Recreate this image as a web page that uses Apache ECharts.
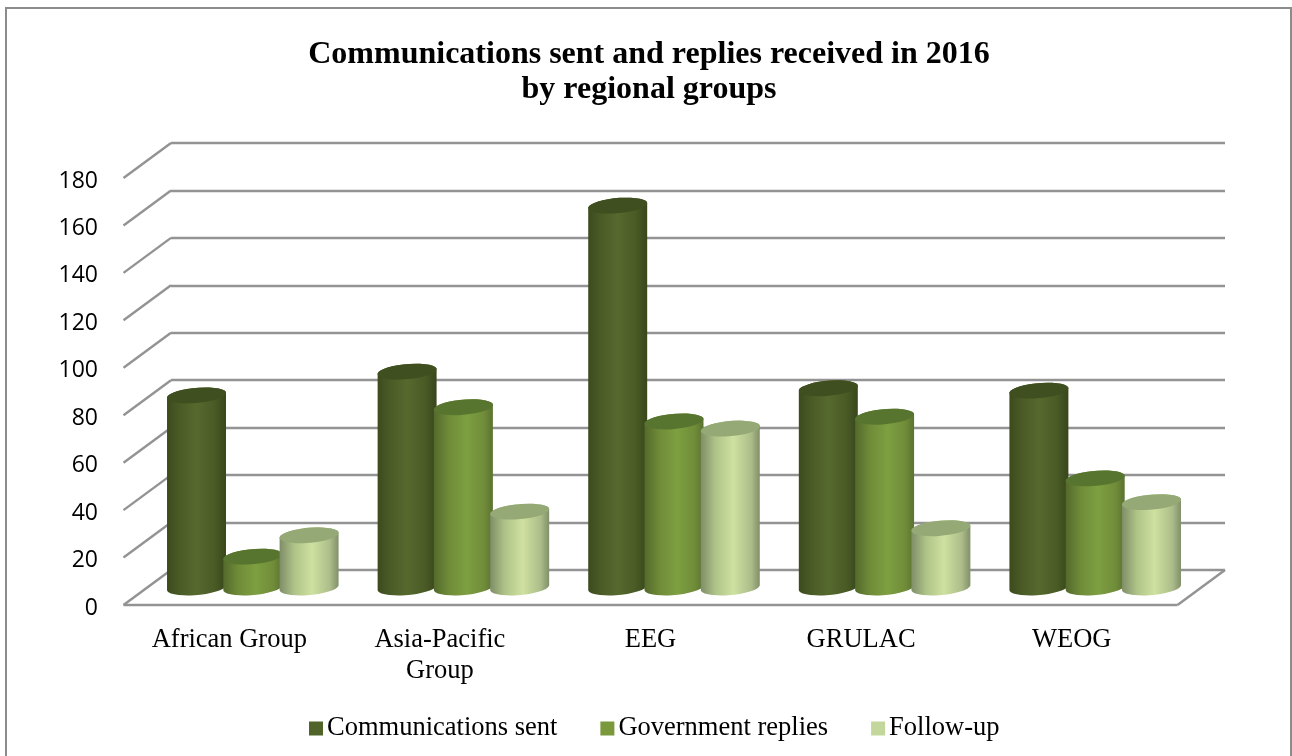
<!DOCTYPE html>
<html>
<head>
<meta charset="utf-8">
<title>Communications sent and replies received in 2016</title>
<script src="https://cdn.jsdelivr.net/npm/echarts@6/dist/echarts.min.js"></script>
<style>
  html, body { margin: 0; padding: 0; background: #fff; }
  #chart { width: 1292px; height: 756px; }
</style>
</head>
<body>
<div id="chart"></div>
<script>
// data
const categories = ["African Group", "Asia-Pacific\nGroup", "EEG", "GRULAC", "WEOG"];
const seriesNames = ["Communications sent", "Government replies", "Follow-up"];
const communicationsSent = [81, 91, 161, 84, 83];
const governmentReplies = [13, 76, 70, 72, 46];
const followUp = [22, 32, 67, 25, 36];
const yTicks = [0, 20, 40, 60, 80, 100, 120, 140, 160, 180];

// oblique depth of the 3d box, front plane relative to back wall
const depthX = -47.5;
const depthY = 35;

const chartDom = document.getElementById("chart");
const myChart = echarts.init(chartDom);

const serif = "'Liberation Serif', 'Times New Roman', serif";

function shaft(stops) {
  return {
    type: "linear", x: 0, y: 0, x2: 1, y2: 0,
    colorStops: stops.map(function (s) {
      return { offset: s[0], color: s[1] };
    }),
  };
}

const seriesLook = [
  {
    legend: "#50642a",
    top: "#3f4f1f",
    body: shaft([[0, "#3c4a1d"], [0.2, "#4a5a26"], [0.5, "#56692d"], [0.8, "#4a5b26"], [1, "#38461b"]]),
  },
  {
    legend: "#7a983c",
    top: "#587530",
    body: shaft([[0, "#53692b"], [0.25, "#6f8b38"], [0.55, "#7e9f41"], [0.85, "#708c39"], [1, "#5a7230"]]),
  },
  {
    legend: "#c3d69b",
    top: "#94a975",
    body: shaft([[0, "#7f8d68"], [0.25, "#aec388"], [0.55, "#cfe1a0"], [0.85, "#adbd8a"], [1, "#808f68"]]),
  },
];

// one cylinder per data item, drawn in the middle plane of the box
function cylinderRender(seriesPos) {
  return function (params, api) {
    const band = api.size([1, 0])[0];
    const top = api.coord([api.value(0), api.value(1)]);
    const base = api.coord([api.value(0), 0]);
    const cx = top[0] + seriesPos * band * 0.2673;
    const rx = band * 0.14;
    const ry = 7.5;
    const tilt = -5;
    const dy = rx * Math.sin((tilt * Math.PI) / 180) * -1 * 0.75;
    const left = cx - rx;
    const right = cx + rx;
    const look = seriesLook[seriesPos + 1];
    const arc = "A" + rx + " " + ry + " " + tilt + " 1 ";
    const bodyPath =
      "M" + left + " " + (top[1] + dy) +
      "L" + left + " " + (base[1] + dy) +
      arc + "0 " + right + " " + (base[1] - dy) +
      "L" + right + " " + (top[1] - dy) +
      arc + "0 " + left + " " + (top[1] + dy) + "Z";
    const capPath =
      "M" + left + " " + (top[1] + dy) +
      arc + "1 " + right + " " + (top[1] - dy) +
      arc + "1 " + left + " " + (top[1] + dy) + "Z";
    return {
      type: "group",
      children: [
        { type: "path", shape: { pathData: bodyPath }, style: { fill: look.body } },
        { type: "path", shape: { pathData: capPath }, style: { fill: look.top } },
      ],
    };
  };
}

function cylinderSeries(i, values) {
  return {
    name: seriesNames[i],
    type: "custom",
    xAxisIndex: 1,
    yAxisIndex: 1,
    z: 5,
    itemStyle: { color: seriesLook[i].legend },
    renderItem: cylinderRender(i - 1),
    encode: { x: 0, y: 1 },
    data: values.map(function (v, idx) {
      return [idx, v];
    }),
  };
}

const lineStyle = { stroke: "#939393", lineWidth: 2.4 };

option = {
  backgroundColor: "#ffffff",
  animation: false,
  title: {
    text: "Communications sent and replies received in 2016\nby regional groups",
    left: 644,
    top: 32,
    textAlign: "center",
    textStyle: {
      fontFamily: serif,
      fontSize: 32,
      fontWeight: "bold",
      color: "#000",
      lineHeight: 35,
    },
  },
  legend: {
    top: 710,
    left: 304,
    itemGap: 43,
    itemWidth: 14,
    itemHeight: 14,
    icon: "rect",
    data: seriesNames,
    textStyle: { fontFamily: serif, fontSize: 26.5, color: "#000", padding: [0, 0, 0, -1] },
  },
  grid: [
    // back wall
    { left: 171, top: 143, width: 1054, height: 427 },
    // middle plane, the cylinders stand here
    { left: 147.5, top: 160.5, width: 1053, height: 427 },
    // front plane, carries the axis labels
    { left: 124, top: 178, width: 1053, height: 427 },
  ],
  xAxis: [
    { gridIndex: 0, type: "category", data: categories, show: false },
    { gridIndex: 1, type: "category", data: categories, show: false },
    {
      gridIndex: 2,
      type: "category",
      data: categories,
      axisTick: { show: false },
      axisLine: { show: false },
      axisLabel: {
        interval: 0,
        margin: 20,
        fontFamily: serif,
        fontSize: 26.5,
        lineHeight: 31,
        color: "#000",
      },
    },
  ],
  yAxis: [
    {
      gridIndex: 0,
      type: "value",
      min: 0,
      max: 180,
      interval: 20,
      axisLabel: { show: false },
      axisLine: { show: false },
      axisTick: { show: false },
      splitLine: { lineStyle: { color: "#939393", width: 2.4 } },
    },
    { gridIndex: 1, type: "value", min: 0, max: 180, interval: 20, show: false },
    {
      gridIndex: 2,
      type: "value",
      min: 0,
      max: 180,
      interval: 20,
      axisLine: { show: false },
      axisTick: { show: false },
      splitLine: { show: false },
      axisLabel: {
        margin: 26,
        fontFamily: "'Open Sans', sans-serif",
        fontSize: 23,
        color: "#000",
        verticalAlign: "top",
        lineHeight: 6,
      },
    },
  ],
  series: [
    {
      // side wall lines and floor of the box
      type: "custom",
      xAxisIndex: 0,
      yAxisIndex: 0,
      z: 1,
      silent: true,
      legendHoverLink: false,
      renderItem: function (params, api) {
        const p = api.coord([0, api.value(0)]);
        const back = params.coordSys.x;
        const children = [
          {
            type: "line",
            shape: { x1: back, y1: p[1], x2: back + depthX, y2: p[1] + depthY },
            style: lineStyle,
          },
        ];
        if (api.value(0) === 0) {
          const right = params.coordSys.x + params.coordSys.width;
          children.push(
            { type: "line", shape: { x1: back + depthX, y1: p[1] + depthY, x2: right + depthX, y2: p[1] + depthY }, style: lineStyle },
            { type: "line", shape: { x1: right + depthX, y1: p[1] + depthY, x2: right, y2: p[1] }, style: lineStyle }
          );
        }
        return { type: "group", children: children };
      },
      data: yTicks.map(function (t) {
        return [t];
      }),
    },
    cylinderSeries(0, communicationsSent),
    cylinderSeries(1, governmentReplies),
    cylinderSeries(2, followUp),
  ],
  graphic: [
    {
      // chart frame
      type: "rect",
      z: -1,
      shape: { x: 6, y: 8, width: 1285, height: 760 },
      style: { fill: "none", stroke: "#8c8c8c", lineWidth: 2 },
    },
  ],
};

option && myChart.setOption(option);
</script>
</body>
</html>
